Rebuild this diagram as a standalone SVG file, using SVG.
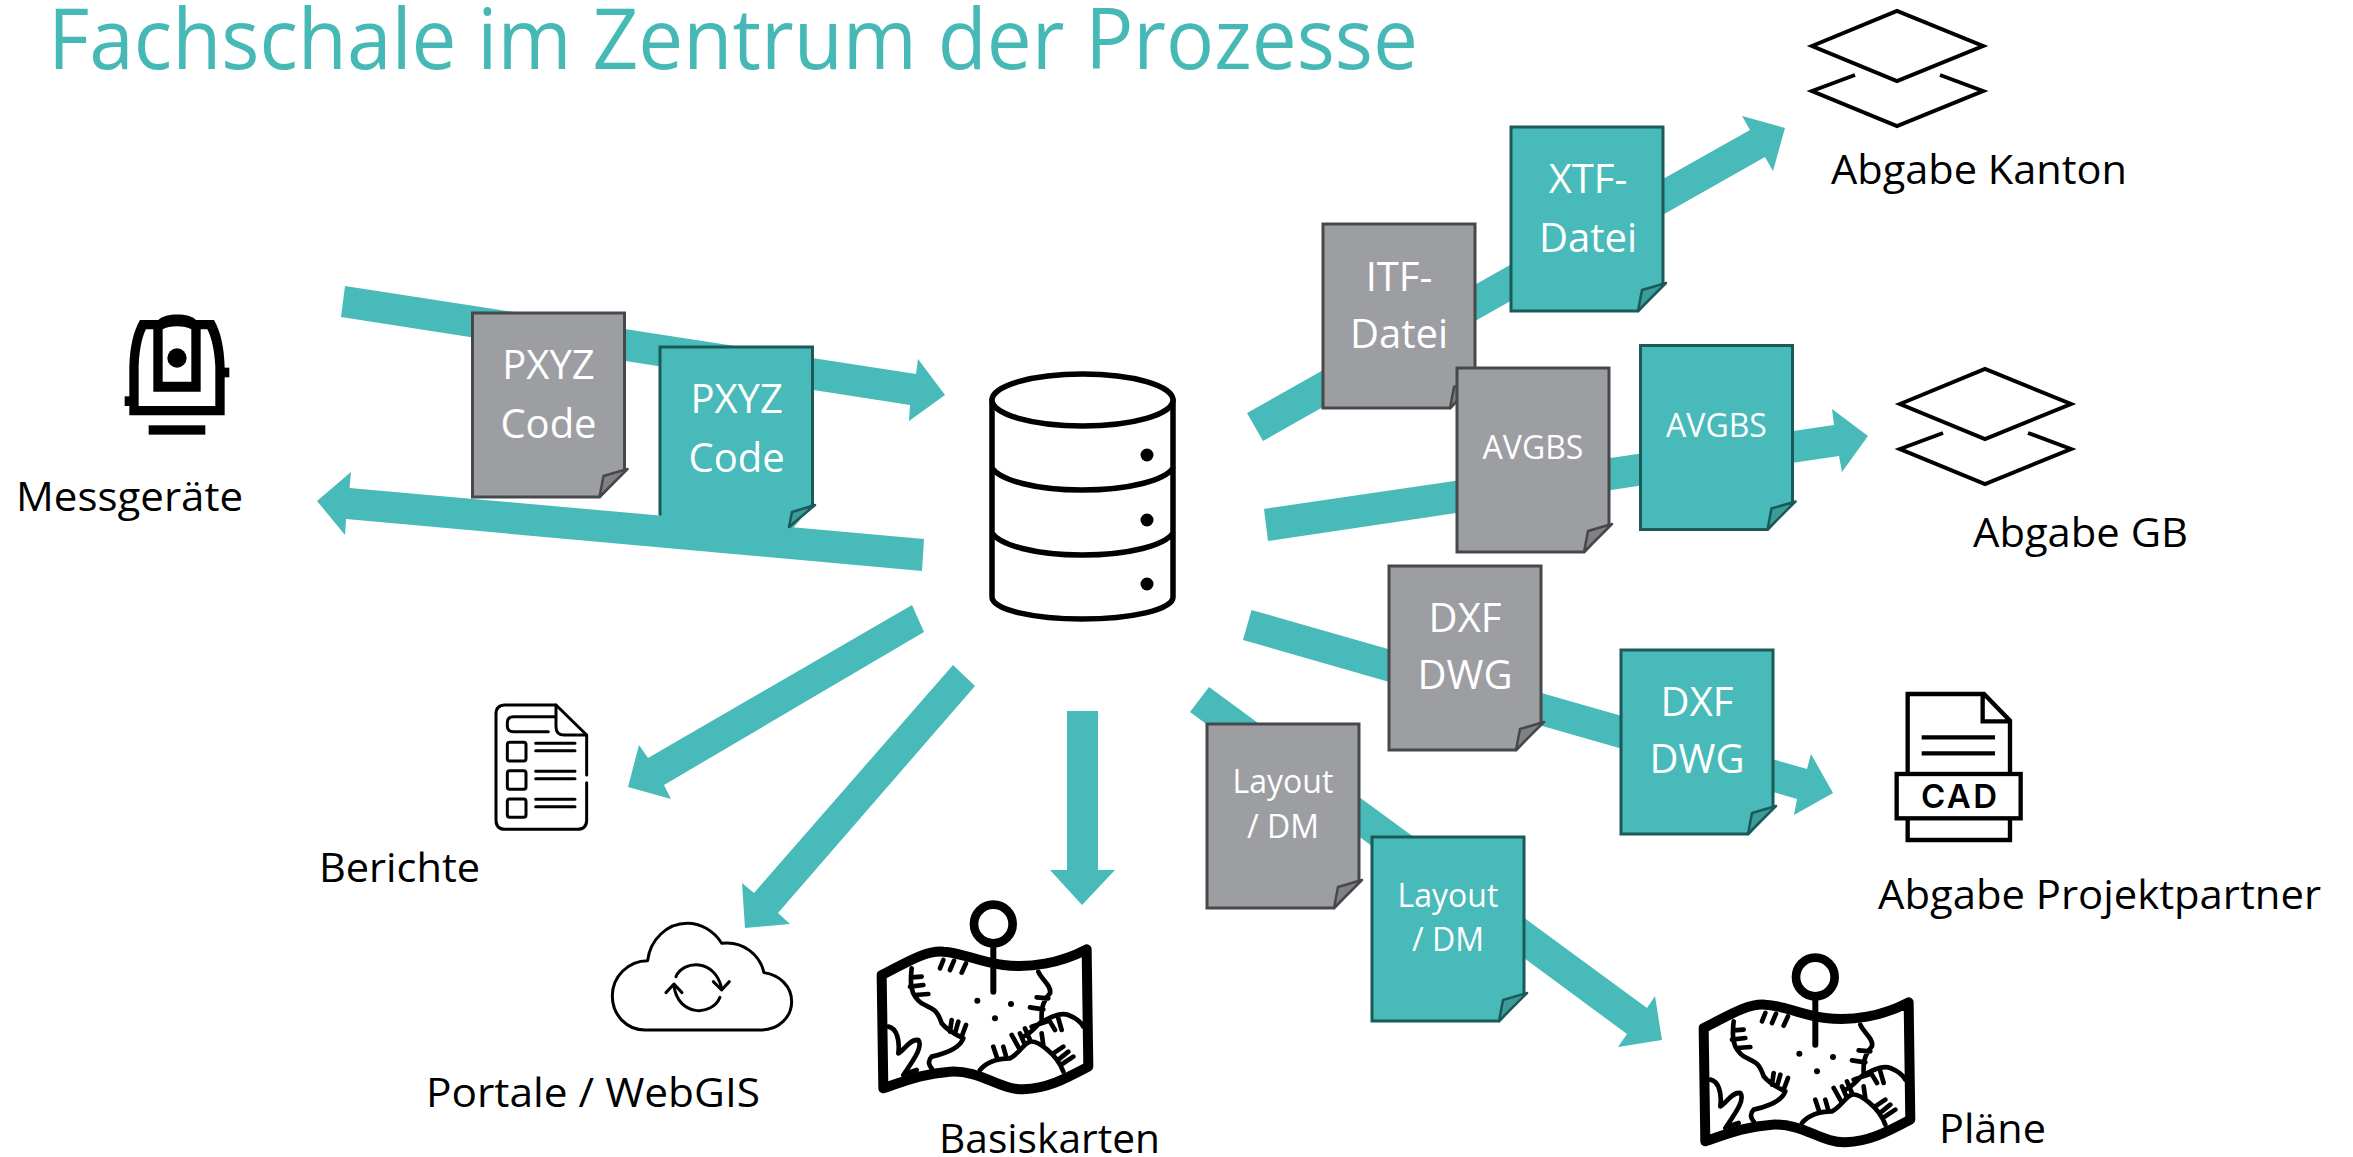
<svg xmlns="http://www.w3.org/2000/svg" xmlns:xlink="http://www.w3.org/1999/xlink" width="2353" height="1157" viewBox="0 0 2353 1157">
<style>
text{font-family:"Open Sans","Noto Sans","Liberation Sans",sans-serif}
.title{font-size:84px;fill:#46b9b6;font-weight:400}
.lbl{font-size:40px;fill:#000}
.d{font-size:40px;fill:#fff;text-anchor:middle}
.s{font-size:32px;fill:#fff;text-anchor:middle}
.arrow{fill:#47bab9}
.gb{fill:#9d9ea2;stroke:#47484a;stroke-width:3}
.gf{fill:#808184;stroke:#47484a;stroke-width:2.5;stroke-linejoin:round}
.tb{fill:#47bab9;stroke:#1b5a58;stroke-width:3}
.tf{fill:#3c9c9a;stroke:#1b5a58;stroke-width:2.5;stroke-linejoin:round}
.ln{fill:none;stroke:#000;stroke-linecap:round;stroke-linejoin:round}
.lay{fill:none;stroke:#000;stroke-width:4;stroke-linejoin:miter}
</style>
<defs>
<path id="body" d="M0 0H152V157L127 184H0Z"/>
<path id="fold" d="M155 156L131 163L127 184Z"/>
<g id="layers" class="lay">
<path d="M1812 46L1897 11L1983 46L1897 81Z"/>
<path d="M1855 75L1812 91L1897 126L1983 91L1940 75"/>
</g>
<g id="map">
<path class="ln" stroke-width="30" d="M65 255C120 230 190 180 250 185C310 188 350 215 430 225C510 235 600 220 680 178L685 530C610 570 560 595 490 598C420 600 360 540 270 545C190 550 130 575 70 595Z"/>
<circle class="ln" cx="400" cy="102" r="58" stroke-width="26"/>
<path class="ln" stroke-width="18" d="M400 165V305"/>
<path class="ln" stroke-width="14" d="M155 235C150 280 150 315 185 340C220 360 230 355 245 400C265 425 290 435 310 445C300 475 260 490 215 500C200 515 210 530 215 535M155 262L185 260M150 290L190 285M165 315L205 312M240 235L250 210M270 240L282 212M305 248L318 220M270 425L275 390M285 430L295 395M305 440L318 405M85 410C110 415 120 450 115 490C135 480 150 445 175 450C190 470 160 510 130 555M140 550L170 540M360 540C385 510 420 505 450 505C480 490 490 460 510 455C530 450 590 490 610 545M400 470L410 500M430 470L440 505M455 435L480 480M480 430L495 465M495 415L510 450M535 245C545 270 575 285 570 310C540 345 545 370 545 395C530 405 515 430 490 440M530 322L565 325M510 352L550 358M515 410L560 395M545 395C570 385 600 365 625 375C650 385 665 400 670 410M570 395L585 420M595 385L605 420M545 430L550 465M580 490L610 470M600 505L625 485M610 520L640 500"/>
<circle cx="352" cy="332" r="9"/><circle cx="453" cy="342" r="9"/><circle cx="405" cy="385" r="9"/>
</g>
</defs>
<rect width="2353" height="1157" fill="#fff"/>
<text id="title" class="title" x="48" y="69" textLength="1370" lengthAdjust="spacingAndGlyphs">Fachschale im Zentrum der Prozesse</text>

<g id="connectors" class="arrow">
<polygon points="345,286 916,374 918,359 945,395 909,421 910,405 341,317"/>
<polygon points="924,539 349.5,488 351,472 317,501 345,535 346,519 922,571"/>
<polygon points="1247,413 1750,130 1742,116 1785,128 1773,171 1765,157 1263,441"/>
<polygon points="1264,509 1834,425 1832,409 1868,436 1842,472 1839,456 1268,541"/>
<polygon points="1251.5,610 1807,769 1811,754 1833,793 1794,815 1797,799 1243,640"/>
<polygon points="1209,687 1647,1008 1655,996 1662,1040 1618,1047 1627,1034 1190,712"/>
<polygon points="912,605 648,758 639,745 628,787 671,799 664,785 924,632"/>
<polygon points="953,665 754,893 742,883 745,928 790,924 778,913 975,686"/>
<polygon points="1067,711 1067,870 1050,870 1082,905 1115,870 1098,870 1098,711"/>
</g>

<g id="node-messgeraete">
<g transform="translate(100 300) scale(.3333)">
<path fill="#000" d="M88 346V200C90 140 100 95 120 60H175C195 38 270 38 288 60H342C362 95 372 140 374 200V346ZM116 318H346V200C344 155 336 115 322 88H302V275H160V88H138C124 115 118 155 116 200ZM188 88V245H274V88C255 76 207 76 188 88Z"/>
<circle cx="231" cy="174" r="29"/>
<rect x="74" y="289" width="28" height="29"/>
<rect x="360" y="203" width="28" height="29"/>
<rect x="146" y="376" width="170" height="28"/>
</g>
<text class="lbl" x="16" y="511" textLength="227" lengthAdjust="spacingAndGlyphs">Messgeräte</text>
</g>

<g id="doc-pxyz-teal" transform="translate(660 347)">
<path fill="#47bab9" d="M0 175V0H152.500V158L129 186Z"/>
<path fill="none" stroke="#1b5a58" stroke-width="3" d="M0 168.600V0H152.500V158L129 180"/>
<path class="tf" d="M155 158L132 165L129 180Z"/>
<text class="d" x="76.600" y="66">PXYZ</text>
<text class="d" x="76.600" y="125">Code</text>
</g>
<g id="doc-pxyz-gray" transform="translate(472.500 313)">
<use href="#body" class="gb"/><use href="#fold" class="gf"/>
<text class="d" x="76" y="66">PXYZ</text>
<text class="d" x="76" y="125">Code</text>
</g>

<g id="node-database">
<path fill="#fff" stroke="#000" stroke-width="5.500" stroke-linecap="round" d="M992 400V597C992 610 1035 619 1082 619C1130 619 1173 610 1173 597V400M992 468C1000 480 1035 490 1082 490C1130 490 1165 480 1173 468M992 533C1000 545 1035 555 1082 555C1130 555 1165 545 1173 533"/>
<ellipse cx="1082.500" cy="400" rx="90.500" ry="26" fill="#fff" stroke="#000" stroke-width="5.500"/>
<circle cx="1147" cy="455" r="6.500"/><circle cx="1147" cy="520" r="6.500"/><circle cx="1147" cy="584" r="6.500"/>
</g>

<g id="doc-itf" transform="translate(1323 224)">
<use href="#body" class="gb"/><use href="#fold" class="gf"/>
<text class="d" x="76" y="67">ITF-</text><text class="d" x="76" y="124">Datei</text>
</g>
<g id="doc-xtf" transform="translate(1511 127)">
<use href="#body" class="tb"/><use href="#fold" class="tf"/>
<text class="d" x="77" y="66">XTF-</text><text class="d" x="77" y="125">Datei</text>
</g>
<g id="doc-avgbs-gray" transform="translate(1457 368)">
<use href="#body" class="gb"/><use href="#fold" class="gf"/>
<text class="s" x="76" y="91">AVGBS</text>
</g>
<g id="doc-avgbs-teal" transform="translate(1640.500 345.500)">
<use href="#body" class="tb"/><use href="#fold" class="tf"/>
<text class="s" x="76" y="91">AVGBS</text>
</g>
<g id="doc-dxf-gray" transform="translate(1389 566)">
<use href="#body" class="gb"/><use href="#fold" class="gf"/>
<text class="d" x="76" y="66">DXF</text><text class="d" x="76" y="123">DWG</text>
</g>
<g id="doc-dxf-teal" transform="translate(1621 650)">
<use href="#body" class="tb"/><use href="#fold" class="tf"/>
<text class="d" x="76" y="66">DXF</text><text class="d" x="76" y="123">DWG</text>
</g>
<g id="doc-layout-gray" transform="translate(1207 724)">
<use href="#body" class="gb"/><use href="#fold" class="gf"/>
<text class="s" x="76" y="69">Layout</text><text class="s" x="76" y="114">/ DM</text>
</g>
<g id="doc-layout-teal" transform="translate(1372 837)">
<use href="#body" class="tb"/><use href="#fold" class="tf"/>
<text class="s" x="76" y="70">Layout</text><text class="s" x="76" y="114">/ DM</text>
</g>

<g id="node-abgabe-kanton">
<use href="#layers"/>
<text class="lbl" x="1831" y="184" textLength="296" lengthAdjust="spacingAndGlyphs">Abgabe Kanton</text>
</g>
<g id="node-abgabe-gb">
<use href="#layers" transform="translate(88 358)"/>
<text class="lbl" x="1973" y="547" textLength="215" lengthAdjust="spacingAndGlyphs">Abgabe GB</text>
</g>
<g id="node-projektpartner">
<g transform="translate(1880 680) scale(.3333)" class="ln" stroke-width="13" style="stroke-linejoin:miter;stroke-linecap:butt">
<path d="M83 280V42H312L390 122V280M308 42V124H390M83 415V480H390V415"/>
<path d="M125 172H345M125 220H345"/>
<rect x="50" y="282" width="372" height="133"/>
</g>
<text x="1921" y="808" textLength="76" style="font-family:Inter,'Liberation Sans',sans-serif;font-weight:600;font-size:33px">CAD</text>
<text class="lbl" x="1878" y="909" textLength="443" lengthAdjust="spacingAndGlyphs">Abgabe Projektpartner</text>
</g>
<g id="node-plaene">
<use href="#map" transform="translate(1682 943) scale(.3333)"/>
<text class="lbl" x="1939" y="1143" textLength="107" lengthAdjust="spacingAndGlyphs">Pläne</text>
</g>
<g id="node-basiskarten">
<use href="#map" transform="translate(860 890) scale(.3333)"/>
<text class="lbl" x="939" y="1153" textLength="221" lengthAdjust="spacingAndGlyphs">Basiskarten</text>
</g>
<g id="node-berichte">
<g transform="translate(470 680) scale(.3333)" class="ln" stroke-width="9">
<path d="M350 285V165L258 75H105Q78 75 78 102V420Q78 448 105 448H322Q350 448 350 420V308"/>
<path d="M258 75V140Q258 165 283 165H350"/>
<path d="M255 110H130Q112 110 112 128V137Q112 155 130 155H235"/>
<rect x="112" y="187" width="56" height="56" rx="7"/>
<rect x="112" y="272" width="56" height="56" rx="7"/>
<rect x="112" y="357" width="56" height="55" rx="7"/>
<path d="M197 190H315M197 212H315M197 274H315M197 296H315M197 358H315M197 380H315"/>
</g>
<text class="lbl" x="319" y="882" textLength="161" lengthAdjust="spacingAndGlyphs">Berichte</text>
</g>
<g id="node-webgis">
<g transform="translate(470 680) scale(.3333)" class="ln" stroke-width="9">
<path d="M525 1050H875C925 1050 965 1012 965 965C965 920 930 885 882 878C870 825 820 782 755 790C730 750 690 730 652 730C590 730 540 780 533 842C475 842 427 890 427 948C427 1005 470 1050 525 1050Z"/>
<path d="M618 890C640 840 735 835 755 925M730 905L755 930L778 905"/>
<path d="M750 952C725 1010 625 1010 612 918M588 938L612 912L636 938"/>
</g>
<text class="lbl" x="426" y="1107" textLength="334" lengthAdjust="spacingAndGlyphs">Portale / WebGIS</text>
</g>
</svg>
